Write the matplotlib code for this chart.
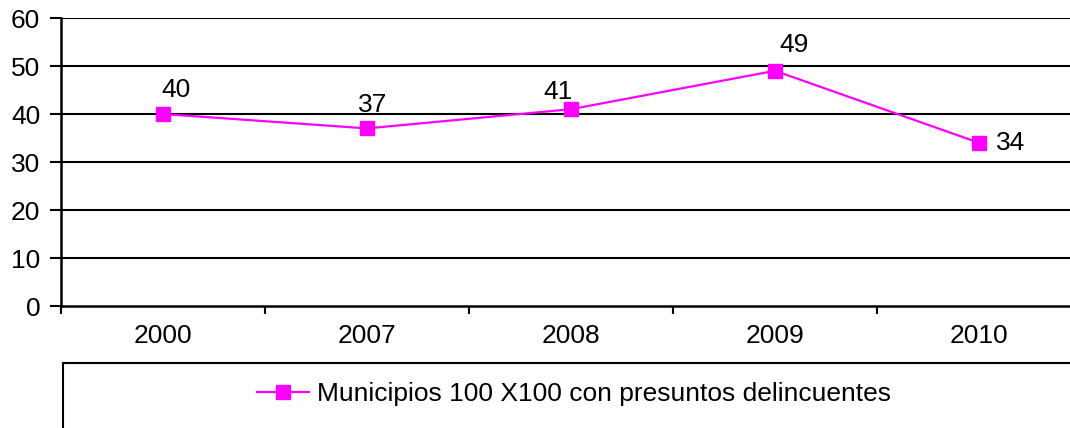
import matplotlib
matplotlib.use("Agg")
import matplotlib.pyplot as plt
from matplotlib.patches import Rectangle

plt.rcParams['font.family'] = ['Liberation Sans', 'DejaVu Sans']

categories = ["2000", "2007", "2008", "2009", "2010"]
values = [40, 37, 41, 49, 34]
series_name = "Municipios 100 X100 con presuntos delincuentes"
yticks = [0, 10, 20, 30, 40, 50, 60]
label_offsets_px = [(13, 24), (6, 23), (-13, 17), (19, 26), (32, 0)]

FS = 19
W, H = 1070, 428
fig = plt.figure(figsize=(W / 100, H / 100), dpi=100)
ax = fig.add_axes([61 / W, (H - 306) / H, 1020 / W, 288 / H])

x = list(range(len(categories)))
ax.plot(x, values, color='#FF00FF', lw=1.6, marker='s', ms=10.5,
        mec='#FF00FF', mfc='#FF00FF', label=series_name, zorder=3, clip_on=False)

ax.set_xlim(-0.5, len(categories) - 0.5)
ax.set_ylim(0, 60)
ax.set_yticks(yticks)
ax.set_yticklabels([str(v) for v in yticks], fontsize=FS)
for yv in yticks[1:]:
    ax.axhline(yv, color='black', lw=1.5, zorder=1)

ax.set_xticks([i - 0.5 for i in range(len(categories) + 1)])
ax.set_xticklabels([])
ax.set_xticks(x, minor=True)
ax.set_xticklabels(categories, minor=True, fontsize=FS)
ax.tick_params(axis='x', which='minor', length=0, pad=13)
ax.tick_params(axis='x', which='major', length=6, width=1.5, direction='out')
ax.tick_params(axis='y', length=8, width=1.5, direction='out', pad=7)

for s in ['top', 'right']:
    ax.spines[s].set_visible(False)
for s in ['left', 'bottom']:
    ax.spines[s].set_linewidth(1.8)

for xi, v, (dx, dy) in zip(x, values, label_offsets_px):
    ax.annotate(str(v), (xi, v), xytext=(dx * 0.72, dy * 0.72), textcoords='offset points',
                ha='center', va='center', fontsize=FS, zorder=4)

# legend box
fig.add_artist(Rectangle((63 / W, -0.2), 1.2, (H - 363) / H + 0.2, transform=fig.transFigure,
                         fill=False, edgecolor='black', lw=1.5))
h, l = ax.get_legend_handles_labels()
fig.legend(h, l, loc='center left', bbox_to_anchor=(257 / W, 1 - 394 / H),
           frameon=False, fontsize=FS, handlelength=1.97, handletextpad=0.3,
           borderpad=0, borderaxespad=0)

fig.savefig("out.png", dpi=100)
